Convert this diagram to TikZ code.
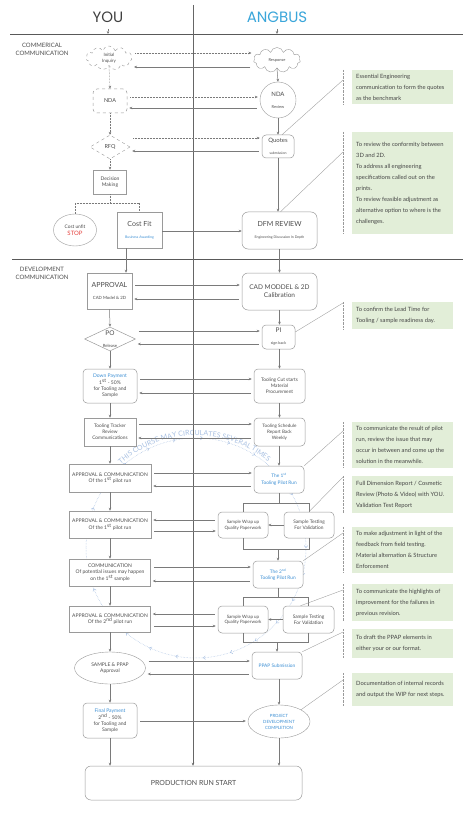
\documentclass[tikz,border=0pt]{standalone}
\usepackage{fontspec}
\setmainfont{Lato}
\newfontfamily\titlefont{Poppins}
\usetikzlibrary{arrows.meta,shapes.geometric,shapes.symbols,decorations.text,decorations.markings}
\definecolor{ln}{HTML}{7A7A7A}
\definecolor{bd}{HTML}{9A9A9A}
\definecolor{tx}{HTML}{4D4D4D}
\definecolor{bl}{HTML}{3C8FD4}
\definecolor{gr}{HTML}{E2EED8}
\definecolor{arcc}{HTML}{A9C1E3}
\definecolor{rd}{HTML}{E5413D}
\definecolor{ttl}{HTML}{3AA6DA}
\newcommand\fz[2]{\fontsize{#1}{#2}\selectfont}
\begin{document}
\begin{tikzpicture}[x=1pt,y=-1pt,
 every node/.style={text=tx, align=center, inner sep=0pt},
 bx/.style={draw=bd, line width=0.5pt, fill=white, rectangle},
 rbx/.style={bx, rounded corners=4pt},
 arr/.style={draw=ln, line width=0.5pt, -{Stealth[length=3pt,width=2.6pt]}},
 darr/.style={arr, densely dotted},
 link/.style={arr, shorten <=3pt, shorten >=2pt},
 dlink/.style={link, densely dotted},
 pl/.style={draw=ln, line width=0.5pt},
 dpl/.style={pl, densely dotted},
 notebox/.style={fill=gr, anchor=north west, minimum width=101},
 notetxt/.style={anchor=west, align=left, text=tx!90!black, font=\fz{5.8}{11}},
 nline/.style={draw=bd, line width=0.4pt, densely dotted},
 ncon/.style={draw=bd, line width=0.35pt},
 sect/.style={font=\fz{6}{8}, text=tx},
]
\fill[white] (0,0) rectangle (474,818);
\useasboundingbox (0,0) rectangle (474,818);

% circulation loop (drawn first, hidden behind nodes)
\coordinate (cc) at (196,548);
\begin{scope}[x=1pt,y=1pt]
\draw[arcc, line width=0.5pt, densely dotted, postaction={decorate},
  decoration={markings, mark=between positions 0.02 and 1 step 0.04 with {\arrow[arcc, solid, line width=0.5pt]{Straight Barb[length=2pt,width=3.5pt]}}}]
  (cc) ++(180:110) arc[start angle=180, end angle=-180, radius=110];
\path[decorate, decoration={text along path, text align=center, raise=1.5pt,
  text={|\fz{7}{7}\color{arcc}|THIS COURSE MAY CIRCULATES SEVERAL TIMES}}]
  (cc) ++(136:111) arc[start angle=136, end angle=46, radius=111];
\end{scope}

% titles and separators
\node[font=\titlefont\fz{15}{15}, text=black!75] (you) at (108,17) {YOU};
\node[font=\titlefont\fz{15}{15}, text=ttl] (ang) at (277,17) {ANGBUS};
\coordinate (ya) at (108,29);
\coordinate (aa) at (277,29);
\draw[draw=black!65, line width=0.9pt] (10,34.5) -- (463,34.5);
\draw[draw=black!65, line width=0.9pt] (12,259) -- (463,259);
\draw[darr] (ya) -- (ya |- 0,34);
\draw[arr] (aa) -- (aa |- 0,34);
\node[sect] (sec1) at (42,49) {COMMERICAL\\COMMUNICATION};
\node[sect] (sec2) at (42,273) {DEVELOPMENT\\COMMUNICATION};

% ---------- left column ----------
\node[draw=bd, dashed, fill=white, cloud, cloud puffs=11, aspect=2, minimum width=46, minimum height=24, font=\fz{4.5}{6}] (inq) at (109,58) {Initial\\Inquiry};
\node[rbx, dashed, minimum width=34, minimum height=24, font=\fz{5.5}{6}] (nda) at (110,101) {NDA};
\node[draw=bd, dashed, fill=white, diamond, aspect=1.7, minimum width=40, minimum height=24, font=\fz{5.5}{6}] (rfq) at (110,147) {RFQ};
\node[bx, minimum width=33, minimum height=24, font=\fz{5}{6.5}] (dm) at (110,182) {Decision\\Making};
\node[draw=bd, fill=white, ellipse, minimum width=43, minimum height=32, font=\fz{4.8}{7}] (cu) at (75,230) {Cost unfit\\{\color{rd}\fz{6}{7}STOP}};
\node[bx, minimum width=45, minimum height=36] (cf) at (139.5,230) {{\fz{7}{8}Cost Fit}\\{\color{bl}\fz{3.5}{4.5}Business Awarding}};
\node[bx, minimum width=45, minimum height=36] (appr) at (109.5,291) {{\fz{7}{8}APPROVAL}\\{\fz{4.3}{5}CAD Model \& 2D}};
\node[draw=bd, fill=white, diamond, aspect=2.1, minimum width=51, minimum height=24, line width=0.5pt] (po) at (110,339) {{\fz{6.5}{7}PO}\\{\fz{4.3}{5}Release}};
\node[rbx, minimum width=54, minimum height=34, font=\fz{5}{6}] (dp) at (110,386) {{\color{bl}Down Payment}\\1\textsuperscript{st} - 50\%\\for Tooling and\\Sample};
\node[bx, minimum width=52, minimum height=28, font=\fz{4.8}{6}] (tt) at (110,432) {Tooling Tracker\\Review\\Communications};
\node[bx, minimum width=82, minimum height=28, font=\fz{5}{6.5}] (a1) at (110,478) {APPROVAL \& COMMUNICATION\\Of the 1\textsuperscript{st} pilot run};
\node[bx, minimum width=82, minimum height=27, font=\fz{5}{6.5}] (a2) at (110,524.5) {APPROVAL \& COMMUNICATION\\Of the 1\textsuperscript{st} pilot run};
\node[bx, minimum width=81, minimum height=27, font=\fz{5}{6}] (cm) at (110,572.5) {COMMUNICATION\\Of potential issues may happen\\on the 1\textsuperscript{st} sample};
\node[bx, minimum width=81, minimum height=26, font=\fz{5}{6.5}] (a3) at (110,619) {APPROVAL \& COMMUNICATION\\Of the 2\textsuperscript{nd} pilot run};
\node[draw=bd, fill=white, ellipse, minimum width=71, minimum height=32, font=\fz{5}{6.5}] (sp) at (110,668) {SAMPLE \& PPAP\\Approval};
\node[rbx, minimum width=54, minimum height=35, font=\fz{5}{6}] (fp) at (110,720.5) {{\color{bl}Final Payment}\\2\textsuperscript{nd} - 50\%\\for Tooling and\\Sample};

% ---------- right column ----------
\node[draw=bd, fill=white, cloud, cloud puffs=11, aspect=2, minimum width=47, minimum height=25, font=\fz{4}{5}] (resp) at (277,60) {Response};
\node[draw=bd, fill=white, circle, minimum size=36] (ndar) at (278,100) {{\fz{6}{7}NDA}\\{\fz{4}{5}Review}};
\node[rbx, minimum width=32, minimum height=23] (quotes) at (278,146.5) {{\fz{6}{6.5}Quotes}\\{\fz{3.5}{4}submission}};
\node[rbx, rounded corners=6pt, minimum width=75, minimum height=37] (dfm) at (279.5,230.5) {{\fz{7}{8}DFM REVIEW}\\{\fz{3.5}{4.5}Engineering Discussion In Depth}};
\node[rbx, rounded corners=6pt, minimum width=75, minimum height=37, font=\fz{6.5}{8}] (cad) at (279.5,291.5) {CAD MODDEL \& 2D\\Calibration};
\node[rbx, minimum width=33, minimum height=24] (pi) at (278.5,337) {{\fz{6.5}{7}PI}\\{\fz{3.8}{4.5}sign back}};
\node[rbx, minimum width=51, minimum height=34, font=\fz{4.8}{6}] (tc) at (279.5,386) {Tooling Cut starts\\Material\\Procurement};
\node[rbx, minimum width=51, minimum height=28, font=\fz{4.6}{6}] (ts) at (279.5,432) {Tooling Schedule\\Report Back\\Weekly};
\node[rbx, minimum width=50, minimum height=27, font=\fz{4.8}{6.5}, text=bl] (p1) at (279,479.5) {The 1\textsuperscript{st}\\Tooling Pilot Run};
\node[rbx, minimum width=50, minimum height=26, font=\fz{4.5}{5.5}] (sw1) at (243,525) {Sample Wrap up\\Quality Paperwork};
\node[rbx, minimum width=50, minimum height=26, font=\fz{4.8}{6}] (st1) at (309,525) {Sample Testing\\For Validation};
\node[rbx, minimum width=50, minimum height=27, font=\fz{4.8}{6.5}, text=bl] (p2) at (278,574.5) {The 2\textsuperscript{nd}\\Tooling Pilot Run};
\node[rbx, minimum width=50, minimum height=27, font=\fz{4.5}{5.5}] (sw2) at (243,619.5) {Sample Wrap up\\Quality Paperwork};
\node[rbx, minimum width=51, minimum height=27, font=\fz{4.8}{6}] (st2) at (308.5,619.5) {Sample Testing\\For Validation};
\node[rbx, minimum width=50, minimum height=27, font=\fz{4.8}{6}, text=bl] (ppap) at (277,665.5) {PPAP Submission};
\node[draw=bd, fill=white, ellipse, minimum width=62, minimum height=33, font=\fz{4.3}{6}, text=bl] (pdc) at (279,721.5) {PROJECT\\DEVELOPMENT\\COMPLETION};
\node[rbx, rounded corners=6pt, minimum width=217, minimum height=34, font=\fz{7}{8}] (prs) at (193.5,783) {PRODUCTION RUN START};

% divider
\coordinate (dtop) at (193,5);
\draw[arr, draw=black!60, line width=0.6pt] (dtop) -- (prs.north -| dtop);

% ---------- vertical flow, left ----------
\draw[darr] (inq.south) -- (nda.north);
\draw[darr] (nda.south) -- (rfq.north);
\draw[darr] (rfq.south) -- (dm.north);
\draw[dpl] (dm.south) -- (dm.south |- 0,203);
\draw[dpl] (cu.north |- 0,203) -- (cf.north |- 0,203);
\draw[dpl] (cu.north |- 0,203) -- (cu.north);
\draw[dpl] (cf.north |- 0,203) -- (cf.north);
\draw[arr] (cf.south -| 126,0) -- (appr.north -| 126,0);
\draw[arr] (appr.south) -- (po.north);
\draw[arr] (po.south) -- (dp.north);
\draw[arr] (dp.south) -- (tt.north);
\draw[arr] (tt.south) -- (a1.north);
\draw[arr] (a1.south) -- (a2.north);
\draw[arr] (a2.south) -- (cm.north);
\draw[arr] (cm.south) -- (a3.north);
\draw[arr] (a3.south) -- (sp.north);
\draw[arr] (sp.south) -- (fp.north);
\draw[arr] (fp.south) -- (prs.north -| fp.south);

% ---------- vertical flow, right ----------
\draw[arr] (resp.south) -- (ndar.north);
\draw[arr] (ndar.south) -- (quotes.north);
\draw[arr] (quotes.south) -- (dfm.north -| quotes.south);
\draw[arr] (dfm.south) -- (cad.north);
\draw[arr] (cad.south) -- (pi.north -| cad.south);
\draw[arr] (pi.south -| tc.north) -- (tc.north);
\draw[arr] (tc.south) -- (ts.north);
\draw[arr] (ts.south -| p1.north) -- (p1.north);
\draw[pl] (p1.south) -- (p1.south |- 0,503);
\draw[pl] (sw1.north |- 0,503) -- (st1.north |- 0,503);
\draw[pl] (sw1.north |- 0,503) -- (sw1.north);
\draw[pl] (st1.north |- 0,503) -- (st1.north);
\draw[arr] (st1.west) -- (sw1.east);
\draw[pl] (sw1.south) -- (sw1.south |- 0,549) -- (st1.south |- 0,549) -- (st1.south);
\draw[arr] (p2.north |- 0,549) -- (p2.north);
\draw[pl] (p2.south) -- (p2.south |- 0,597);
\draw[pl] (sw2.north |- 0,597) -- (st2.north |- 0,597);
\draw[pl] (sw2.north |- 0,597) -- (sw2.north);
\draw[pl] (st2.north |- 0,597) -- (st2.north);
\draw[arr] (st2.west) -- (sw2.east);
\draw[pl] (sw2.south) -- (sw2.south |- 0,642) -- (st2.south |- 0,642) -- (st2.south);
\draw[arr] (ppap.north |- 0,642) -- (ppap.north);
\draw[arr] (ppap.south -| pdc.north) -- (pdc.north);
\draw[arr] (pdc.south) -- (prs.north -| pdc.south);

% ---------- horizontal exchanges ----------
\draw[dlink] (inq.east |- 0,53) -- (resp.west |- 0,53);
\draw[link] (resp.west |- 0,67) -- (inq.east |- 0,67);
\draw[dlink] (nda.east |- 0,97) -- (ndar.west |- 0,97);
\draw[link] (ndar.west |- 0,108) -- (nda.east |- 0,108);
\draw[dlink] (rfq.east |- 0,138) -- (quotes.west |- 0,138);
\draw[link] (quotes.west |- 0,151) -- (rfq.east |- 0,151);
\draw[arr] (cf.east |- 0,231) -- (dfm.west |- 0,231);
\draw[link] (appr.east |- 0,285) -- (cad.west |- 0,285);
\draw[link] (cad.west |- 0,299) -- (appr.east |- 0,299);
\draw[link] (po.east |- 0,331) -- (pi.west |- 0,331);
\draw[link] (pi.west |- 0,344) -- (po.east |- 0,344);
\draw[link] (dp.east |- 0,379) -- (tc.west |- 0,379);
\draw[link] (tc.west |- 0,393) -- (dp.east |- 0,393);
\draw[link] (tt.east |- 0,424) -- (ts.west |- 0,424);
\draw[link] (ts.west |- 0,438) -- (tt.east |- 0,438);
\draw[link] (a1.east |- 0,473) -- (p1.west |- 0,473);
\draw[link] (p1.west |- 0,486) -- (a1.east |- 0,486);
\draw[link] (sw1.west |- 0,520) -- (a2.east |- 0,520);
\draw[link] (a2.east |- 0,531) -- (sw1.west |- 0,531);
\draw[link] (cm.east |- 0,567) -- (p2.west |- 0,567);
\draw[link] (p2.west |- 0,581) -- (cm.east |- 0,581);
\draw[link] (sw2.west |- 0,614) -- (a3.east |- 0,614);
\draw[link] (a3.east |- 0,626) -- (sw2.west |- 0,626);
\draw[link] (sp.east |- 0,661) -- (ppap.west |- 0,661);
\draw[link] (ppap.west |- 0,674) -- (sp.east |- 0,674);
\draw[link] (fp.east |- 0,721) -- (pdc.west |- 0,721);

% ---------- notes ----------
\node[notebox, minimum height=34] (n1) at (352,70) {};
\node[notetxt] (n1t) at ([xshift=4pt]n1.west) {Essential Engineering\\communication to form the quotes\\as the benchmark};
\node[notebox, minimum height=102] (n2) at (352,132) {};
\node[notetxt] (n2t) at ([xshift=4pt]n2.west) {To review the conformity between\\3D and 2D.\\To address all engineering\\specifications called out on the\\prints.\\To review feasible adjustment as\\alternative option to where is the\\challenges.};
\node[notebox, minimum height=27] (n3) at (352,302) {};
\node[notetxt] (n3t) at ([xshift=4pt]n3.west) {To confirm the Lead Time for\\Tooling / sample readiness day.};
\node[notebox, minimum height=46] (n4) at (352,422) {};
\node[notetxt] (n4t) at ([xshift=4pt]n4.west) {To communicate the result of pilot\\run, review the issue that may\\occur in between and come up the\\solution in the meanwhile.};
\node[notebox, minimum height=37] (n5) at (352,476) {};
\node[notetxt] (n5t) at ([xshift=4pt]n5.west) {Full Dimension Report / Cosmetic\\Review (Photo \& Video) with YOU.\\Validation Test Report};
\node[notebox, minimum height=46] (n6) at (352,527) {};
\node[notetxt] (n6t) at ([xshift=4pt]n6.west) {To make adjustment in light of the\\feedback from field testing.\\Material alternation \& Structure\\Enforcement};
\node[notebox, minimum height=37] (n7) at (352,584) {};
\node[notetxt] (n7t) at ([xshift=4pt]n7.west) {To communicate the highlights of\\improvement for the failures in\\previous revision.};
\node[notebox, minimum height=29] (n8) at (352,629) {};
\node[notetxt] (n8t) at ([xshift=4pt]n8.west) {To draft the PPAP elements in\\either your or our format.};
\node[notebox, minimum height=33] (n9) at (352,673) {};
\node[notetxt] (n9t) at ([xshift=4pt]n9.west) {Documentation of internal records\\and output the WIP for next steps.};

% note guide lines
\foreach \a/\b in {70/104,132/234,302/329,422/468,476/513,527/573,584/621,629/658,673/706}
  \draw[nline] (343,\a) -- (343,\b);
\coordinate (c1) at (343,80);
\coordinate (c2) at (343,152);
\coordinate (c3) at (343,303);
\coordinate (c4) at (343,431);
\coordinate (c5) at (343,477);
\coordinate (c6) at (343,533);
\coordinate (c7) at (343,590);
\coordinate (c8) at (343,632);
\coordinate (c9) at (343,680);
\draw[ncon] ([xshift=4pt]quotes.north) -- (c1);
\draw[ncon] ([xshift=1pt]dfm.north) -- (c2);
\draw[ncon] ([yshift=5pt]pi.east) -- (c3);
\draw[ncon] (p1.north east) -- (c4);
\draw[ncon] (st1.north) -- (c5);
\draw[ncon] (p2.north east) -- (c6);
\draw[ncon] ([xshift=-8pt]st2.north) -- (c7);
\draw[ncon] (ppap.north east) -- (c8);
\draw[ncon] (pdc.north east) -- (c9);
\end{tikzpicture}
\end{document}
